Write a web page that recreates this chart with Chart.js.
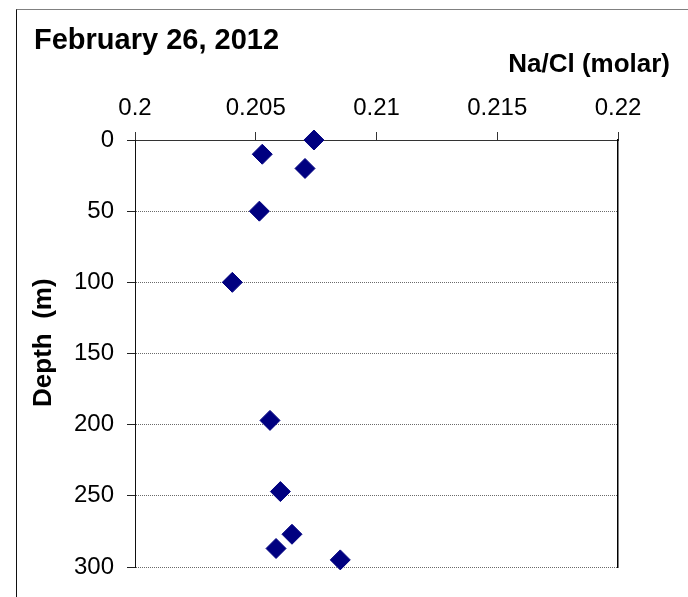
<!DOCTYPE html>
<html>
<head>
<meta charset="utf-8">
<script src="https://cdn.jsdelivr.net/npm/chart.js@4"></script>
<style>
  html, body { margin: 0; padding: 0; background: #fff; overflow: hidden; }
  #wrap { position: relative; width: 688px; height: 597px; }
  #frame { position: absolute; left: 16px; top: 9px; width: 700px; height: 620px;
           border-left: 1px solid #111; border-top: 1px solid #808080; }
  #chart { position: absolute; left: 0; top: 0; }
</style>
</head>
<body>
<div id="wrap">
  <div id="frame"></div>
  <canvas id="chart" width="688" height="597"></canvas>
</div>
<script>
// Data
const naClRatio = [0.20741, 0.20527, 0.20704, 0.20515, 0.20403, 0.20559, 0.20602, 0.20650, 0.20584, 0.20850];
const depthM = [0, 10, 20, 50, 100, 197, 247, 277, 287, 295];

// Tick labels
const xTicks = [0.2, 0.205, 0.21, 0.215, 0.22];
const yTicks = [0, 50, 100, 150, 200, 250, 300];

const FONT = "'Liberation Sans', Arial, sans-serif";

const points = naClRatio.map((v, i) => ({ x: v, y: depthM[i] }));

new Chart(document.getElementById('chart').getContext('2d'), {
    type: 'scatter',
    data: {
        datasets: [{
            label: 'Na/Cl',
            data: points,
            pointStyle: 'rectRot',
            pointRadius: 10,
            pointHoverRadius: 10,
            backgroundColor: '#000080',
            borderColor: '#000080',
            borderWidth: 1,
            clip: false
        }]
    },
    options: {
        responsive: false,
        animation: false,
        layout: { padding: { left: 34, right: 18, top: 0, bottom: 30 } },
        plugins: {
            legend: { display: false },
            tooltip: { enabled: false },
            title: {
                display: true,
                text: 'February 26, 2012',
                align: 'start',
                color: '#000',
                font: { family: FONT, size: 29, weight: 'bold', lineHeight: 0.8 },
                padding: { top: 29, bottom: 0 }
            },
            subtitle: {
                display: true,
                text: 'Na/Cl (molar)',
                align: 'end',
                color: '#000',
                font: { family: FONT, size: 26, weight: 'bold', lineHeight: 0.8 },
                padding: { top: 2.1, bottom: 0 }
            }
        },
        scales: {
            x: {
                type: 'linear',
                position: 'top',
                min: 0.2,
                max: 0.22,
                afterBuildTicks: scale => { scale.ticks = xTicks.map(v => ({ value: v })); },
                afterFit: scale => { scale.height = 64.9; },
                ticks: {
                    color: '#000',
                    font: { family: FONT, size: 24 },
                    padding: 9,
                    maxRotation: 0,
                    callback: v => String(+v.toFixed(3))
                },
                grid: {
                    drawOnChartArea: false,
                    drawTicks: true,
                    tickLength: 8,
                    tickColor: '#333',
                    tickWidth: 1
                },
                border: { display: true, color: '#333', width: 1 }
            },
            y: {
                type: 'linear',
                position: 'left',
                reverse: true,
                min: 0,
                max: 300,
                afterBuildTicks: scale => { scale.ticks = yTicks.map(v => ({ value: v })); },
                afterFit: scale => { scale.width = 101; },
                ticks: {
                    color: '#000',
                    font: { family: FONT, size: 24 },
                    padding: 13
                },
                grid: {
                    color: '#6a6a6a',
                    lineWidth: 1,
                    drawTicks: true,
                    tickLength: 8,
                    tickColor: '#222',
                    tickWidth: 1,
                    tickBorderDash: []
                },
                border: { display: true, color: '#111', width: 1, dash: [1, 1] },
                title: {
                    display: true,
                    text: '   Depth  (m)',
                    color: '#000',
                    font: { family: FONT, size: 26, weight: 'bold', lineHeight: 0.77 },
                    padding: 0
                }
            },
            y2: {
                type: 'linear',
                position: 'right',
                min: 0,
                max: 300,
                afterFit: scale => { scale.width = 52; },
                ticks: { display: false },
                grid: { display: false, drawOnChartArea: false, drawTicks: false },
                border: { display: true, color: '#000', width: 1.5 }
            }
        }
    }
});
</script>
</body>
</html>
